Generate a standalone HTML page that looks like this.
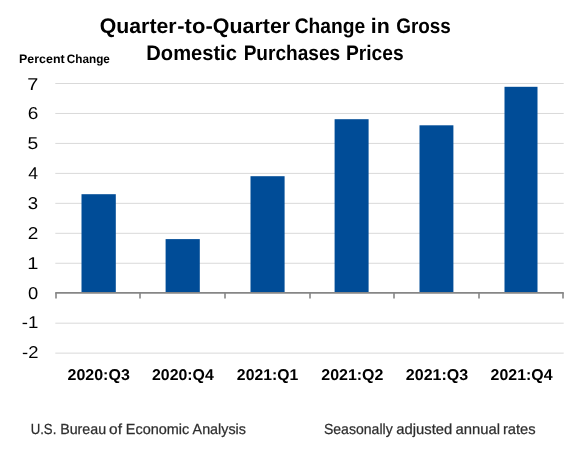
<!DOCTYPE html>
<html><head><meta charset="utf-8">
<style>
html,body{margin:0;padding:0;background:#fff;}
body{width:578px;height:454px;overflow:hidden;}
svg{display:block;will-change:transform;}
text{font-family:"Liberation Sans",sans-serif;text-rendering:geometricPrecision;}
</style></head>
<body>
<svg width="578" height="454" viewBox="0 0 578 454">
<rect x="0" y="0" width="578" height="454" fill="#fff"/>
<g stroke="#d9d9d9" stroke-width="1">
<line x1="55.3" y1="83.50" x2="563.7" y2="83.50"/>
<line x1="55.3" y1="113.46" x2="563.7" y2="113.46"/>
<line x1="55.3" y1="143.42" x2="563.7" y2="143.42"/>
<line x1="55.3" y1="173.38" x2="563.7" y2="173.38"/>
<line x1="55.3" y1="203.34" x2="563.7" y2="203.34"/>
<line x1="55.3" y1="233.30" x2="563.7" y2="233.30"/>
<line x1="55.3" y1="263.26" x2="563.7" y2="263.26"/>
<line x1="55.3" y1="323.18" x2="563.7" y2="323.18"/>
<line x1="55.3" y1="353.14" x2="563.7" y2="353.14"/>
</g>
<g fill="#004c97">
<rect x="81.50" y="194.20" width="34.30" height="98.80"/>
<rect x="165.60" y="239.10" width="34.20" height="53.90"/>
<rect x="250.50" y="176.20" width="34.10" height="116.80"/>
<rect x="334.60" y="119.20" width="34.00" height="173.80"/>
<rect x="419.50" y="125.30" width="33.90" height="167.70"/>
<rect x="504.50" y="86.80" width="33.00" height="206.20"/>
</g>
<g stroke="#868686" fill="none">
<line x1="55.2" y1="292.9" x2="563.8" y2="292.9" stroke-width="1.9"/>
<line x1="56" y1="292.9" x2="56" y2="298.6" stroke-width="1.6"/>
<line x1="140" y1="292.9" x2="140" y2="298.6" stroke-width="1.6"/>
<line x1="225" y1="292.9" x2="225" y2="298.6" stroke-width="1.6"/>
<line x1="310" y1="292.9" x2="310" y2="298.6" stroke-width="1.6"/>
<line x1="394" y1="292.9" x2="394" y2="298.6" stroke-width="1.6"/>
<line x1="479" y1="292.9" x2="479" y2="298.6" stroke-width="1.6"/>
<line x1="563" y1="292.9" x2="563" y2="298.6" stroke-width="1.6"/>
</g>

<text x="99.74" y="32.60" font-size="21.00" font-weight="bold" fill="#000" textLength="76.84" lengthAdjust="spacingAndGlyphs">Quarter</text>
<text x="177.29" y="32.60" font-size="21.00" font-weight="bold" fill="#000" textLength="35.44" lengthAdjust="spacingAndGlyphs">-to-</text>
<text x="212.88" y="32.60" font-size="21.00" font-weight="bold" fill="#000" textLength="77.27" lengthAdjust="spacingAndGlyphs">Quarter</text>
<text x="294.64" y="32.60" font-size="21.00" font-weight="bold" fill="#000" textLength="70.60" lengthAdjust="spacingAndGlyphs">Change</text>
<text x="370.77" y="32.60" font-size="21.00" font-weight="bold" fill="#000" textLength="18.99" lengthAdjust="spacingAndGlyphs">in</text>
<text x="396.21" y="32.60" font-size="21.00" font-weight="bold" fill="#000" textLength="54.70" lengthAdjust="spacingAndGlyphs">Gross</text>
<text x="146.32" y="60.00" font-size="21.00" font-weight="bold" fill="#000" textLength="90.57" lengthAdjust="spacingAndGlyphs">Domestic</text>
<text x="243.63" y="60.00" font-size="21.00" font-weight="bold" fill="#000" textLength="96.55" lengthAdjust="spacingAndGlyphs">Purchases</text>
<text x="345.95" y="60.00" font-size="21.00" font-weight="bold" fill="#000" textLength="57.79" lengthAdjust="spacingAndGlyphs">Prices</text>
<text x="19.08" y="62.50" font-size="12.20" font-weight="bold" fill="#000" textLength="45.55" lengthAdjust="spacingAndGlyphs">Percent</text>
<text x="66.82" y="62.50" font-size="12.20" font-weight="bold" fill="#000" textLength="43.10" lengthAdjust="spacingAndGlyphs">Change</text>
<text x="30.68" y="434.30" font-size="14.60" font-weight="normal" fill="#2e2e2e" stroke="#2e2e2e" stroke-width="0.25" textLength="25.62" lengthAdjust="spacingAndGlyphs">U.S.</text>
<text x="60.14" y="434.30" font-size="14.60" font-weight="normal" fill="#2e2e2e" stroke="#2e2e2e" stroke-width="0.25" textLength="46.01" lengthAdjust="spacingAndGlyphs">Bureau</text>
<text x="109.13" y="434.30" font-size="14.60" font-weight="normal" fill="#2e2e2e" stroke="#2e2e2e" stroke-width="0.25" textLength="12.89" lengthAdjust="spacingAndGlyphs">of</text>
<text x="125.84" y="434.30" font-size="14.60" font-weight="normal" fill="#2e2e2e" stroke="#2e2e2e" stroke-width="0.25" textLength="63.44" lengthAdjust="spacingAndGlyphs">Economic</text>
<text x="192.62" y="434.30" font-size="14.60" font-weight="normal" fill="#2e2e2e" stroke="#2e2e2e" stroke-width="0.25" textLength="53.30" lengthAdjust="spacingAndGlyphs">Analysis</text>
<text x="323.92" y="434.30" font-size="14.60" font-weight="normal" fill="#2e2e2e" stroke="#2e2e2e" stroke-width="0.25" textLength="68.76" lengthAdjust="spacingAndGlyphs">Seasonally</text>
<text x="396.26" y="434.30" font-size="14.60" font-weight="normal" fill="#2e2e2e" stroke="#2e2e2e" stroke-width="0.25" textLength="55.99" lengthAdjust="spacingAndGlyphs">adjusted</text>
<text x="455.54" y="434.30" font-size="14.60" font-weight="normal" fill="#2e2e2e" stroke="#2e2e2e" stroke-width="0.25" textLength="44.45" lengthAdjust="spacingAndGlyphs">annual</text>
<text x="502.92" y="434.30" font-size="14.60" font-weight="normal" fill="#2e2e2e" stroke="#2e2e2e" stroke-width="0.25" textLength="32.74" lengthAdjust="spacingAndGlyphs">rates</text>
<text x="67.53" y="379.60" font-size="15.60" font-weight="bold" fill="#000" textLength="62.27" lengthAdjust="spacingAndGlyphs">2020:Q3</text>
<text x="152.06" y="379.60" font-size="15.60" font-weight="bold" fill="#000" textLength="61.70" lengthAdjust="spacingAndGlyphs">2020:Q4</text>
<text x="236.88" y="379.60" font-size="15.60" font-weight="bold" fill="#000" textLength="61.31" lengthAdjust="spacingAndGlyphs">2021:Q1</text>
<text x="321.27" y="379.60" font-size="15.60" font-weight="bold" fill="#000" textLength="62.16" lengthAdjust="spacingAndGlyphs">2021:Q2</text>
<text x="405.88" y="379.60" font-size="15.60" font-weight="bold" fill="#000" textLength="62.38" lengthAdjust="spacingAndGlyphs">2021:Q3</text>
<text x="490.61" y="379.60" font-size="15.60" font-weight="bold" fill="#000" textLength="61.89" lengthAdjust="spacingAndGlyphs">2021:Q4</text>
<text x="22.05" y="358.00" font-size="17.10" font-weight="normal" fill="#000" textLength="16.36" lengthAdjust="spacingAndGlyphs">-2</text>
<text x="21.81" y="327.90" font-size="17.10" font-weight="normal" fill="#000" textLength="16.57" lengthAdjust="spacingAndGlyphs">-1</text>
<text x="27.98" y="298.75" font-size="17.10" font-weight="normal" fill="#000" textLength="10.20" lengthAdjust="spacingAndGlyphs">0</text>
<text x="27.16" y="268.79" font-size="17.10" font-weight="normal" fill="#000" textLength="11.16" lengthAdjust="spacingAndGlyphs">1</text>
<text x="27.89" y="238.83" font-size="17.10" font-weight="normal" fill="#000" textLength="10.60" lengthAdjust="spacingAndGlyphs">2</text>
<text x="27.84" y="208.87" font-size="17.10" font-weight="normal" fill="#000" textLength="10.34" lengthAdjust="spacingAndGlyphs">3</text>
<text x="28.34" y="178.91" font-size="17.10" font-weight="normal" fill="#000" textLength="9.77" lengthAdjust="spacingAndGlyphs">4</text>
<text x="27.62" y="148.95" font-size="17.10" font-weight="normal" fill="#000" textLength="10.71" lengthAdjust="spacingAndGlyphs">5</text>
<text x="27.68" y="118.99" font-size="17.10" font-weight="normal" fill="#000" textLength="10.58" lengthAdjust="spacingAndGlyphs">6</text>
<text x="27.38" y="90.00" font-size="17.10" font-weight="normal" fill="#000" textLength="11.06" lengthAdjust="spacingAndGlyphs">7</text>
</svg>
</body></html>
